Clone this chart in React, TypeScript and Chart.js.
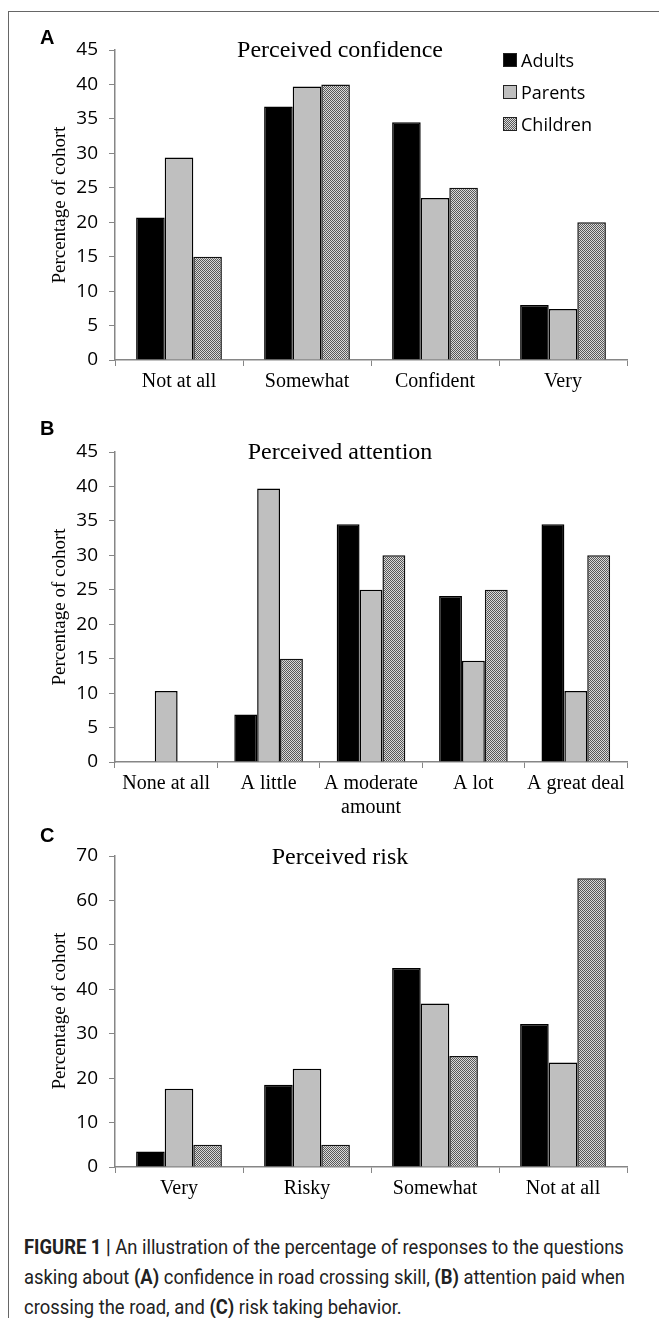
import { useEffect, useRef } from 'react'
import { Chart, registerables } from 'chart.js'

Chart.register(...registerables)

const seriesNames = ['Adults', 'Parents', 'Children']

// Panel A – perceived confidence
const confidenceLabels = ['Not at all', 'Somewhat', 'Confident', 'Very']
const confidenceAdults = [20.7, 36.8, 34.5, 8.0]
const confidenceParents = [29.4, 39.7, 23.5, 7.4]
const confidenceChildren = [15, 40, 25, 20]

// Panel B – perceived attention
const attentionLabels: (string | string[])[] = ['None at all', 'A little', ['A moderate', 'amount'], 'A lot', 'A great deal']
const attentionAdults = [0, 6.9, 34.5, 24.1, 34.5]
const attentionParents = [10.3, 39.7, 25.0, 14.7, 10.3]
const attentionChildren = [0, 15, 30, 25, 30]

// Panel C – perceived risk
const riskLabels = ['Very', 'Risky', 'Somewhat', 'Not at all']
const riskAdults = [3.5, 18.5, 44.8, 32.2]
const riskParents = [17.6, 22.1, 36.8, 23.5]
const riskChildren = [5, 5, 25, 65]

const captionLines = [
  [['b', 'FIGURE 1 |'], ['', ' An illustration of the percentage of responses to the questions']],
  [['', 'asking about '], ['b', '(A)'], ['', ' confidence in road crossing skill, '], ['b', '(B)'], ['', ' attention paid when']],
  [['', 'crossing the road, and '], ['b', '(C)'], ['', ' risk taking behavior.']],
]

const AXIS = '#868686'
const SERIF = "'Liberation Serif', 'Times New Roman', serif"
const SANS = "'Open Sans', sans-serif"

function checker() {
  const c = document.createElement('canvas')
  c.width = 2
  c.height = 2
  const g = c.getContext('2d')!
  g.fillStyle = '#dadada'
  g.fillRect(0, 0, 2, 2)
  g.fillStyle = '#585858'
  g.fillRect(0, 0, 1, 1)
  g.fillRect(1, 1, 1, 1)
  return g.createPattern(c, 'repeat')!
}

function Panel({
  labels,
  adults,
  parents,
  children,
  max,
  step,
  top,
  padTop,
  plotH,
  axisH,
}: {
  labels: (string | string[])[]
  adults: number[]
  parents: number[]
  children: number[]
  max: number
  step: number
  top: number
  padTop: number
  plotH: number
  axisH: number
}) {
  const canvasRef = useRef<HTMLCanvasElement>(null)
  const height = padTop + plotH + axisH

  useEffect(() => {
    if (!canvasRef.current) return
    const chart = new Chart(canvasRef.current, {
      type: 'bar',
      data: {
        labels,
        datasets: [
          { label: seriesNames[0], data: adults, backgroundColor: '#000', borderColor: '#000', borderWidth: 1.5 },
          { label: seriesNames[1], data: parents, backgroundColor: '#bfbfbf', borderColor: '#000', borderWidth: 1.5 },
          { label: seriesNames[2], data: children, backgroundColor: checker(), borderColor: '#111', borderWidth: 1.5 },
        ],
      },
      options: {
        animation: false,
        responsive: false,
        maintainAspectRatio: false,
        layout: { padding: { left: 0, right: 32, top: padTop, bottom: 0 } },
        plugins: { legend: { display: false }, tooltip: { enabled: false } },
        datasets: { bar: { categoryPercentage: 0.67, barPercentage: 1 } },
        scales: {
          x: {
            grid: { offset: true, drawOnChartArea: false, color: AXIS, tickLength: 6 },
            border: { color: AXIS, width: 1.5 },
            ticks: { color: '#000', font: { family: SERIF, size: 20 }, padding: 4, maxRotation: 0, autoSkip: false },
            afterFit: (s) => {
              s.height = axisH
            },
          },
          y: {
            min: 0,
            max,
            grid: { drawOnChartArea: false, color: AXIS, tickLength: 6 },
            border: { color: AXIS, width: 1.5 },
            ticks: { stepSize: step, color: '#000', font: { family: SANS, size: 19 }, padding: 11 },
            afterFit: (s) => {
              s.width = 115
            },
          },
        },
      },
    })
    return () => chart.destroy()
  }, [])

  return (
    <canvas
      ref={canvasRef}
      width={659}
      height={height}
      style={{ position: 'absolute', left: 0, top, width: 659, height }}
    />
  )
}

function Text({
  x,
  y,
  children,
  style,
}: {
  x: number
  y: number
  children: React.ReactNode
  style?: React.CSSProperties
}) {
  // x = centre, y = centre
  return (
    <div
      style={{
        position: 'absolute',
        left: x - 200,
        top: y - 15,
        width: 400,
        height: 30,
        lineHeight: '30px',
        textAlign: 'center',
        whiteSpace: 'nowrap',
        ...style,
      }}
    >
      {children}
    </div>
  )
}

function YTitle({ cy }: { cy: number }) {
  return (
    <Text x={59} y={cy} style={{ fontFamily: SERIF, fontSize: 19, transform: 'rotate(-90deg)' }}>
      Percentage of cohort
    </Text>
  )
}

function Letter({ y, children }: { y: number; children: string }) {
  return (
    <div
      style={{
        position: 'absolute',
        left: 40,
        top: y - 12,
        lineHeight: '24px',
        fontFamily: "'Liberation Sans', Arial, sans-serif",
        fontWeight: 'bold',
        fontSize: 20,
      }}
    >
      {children}
    </div>
  )
}

const swatches = [
  { name: seriesNames[0], bg: '#000' },
  { name: seriesNames[1], bg: '#bfbfbf' },
  { name: seriesNames[2], bg: 'repeating-conic-gradient(#585858 0 25%, #dadada 0 50%) 0 0 / 2px 2px' },
]

export default function App() {
  return (
    <div style={{ position: 'absolute', left: 0, top: 0, width: 659, height: 1318, background: '#fff', overflow: 'hidden' }}>
      <div
        style={{
          position: 'absolute',
          left: 8,
          top: 11,
          width: 700,
          height: 1400,
          borderTop: '1.5px solid #666',
          borderLeft: '1.5px solid #666',
        }}
      />

      <Panel labels={confidenceLabels} adults={confidenceAdults} parents={confidenceParents} children={confidenceChildren}
        max={45} step={5} top={20} padTop={30} plotH={310} axisH={60} />
      <Panel labels={attentionLabels} adults={attentionAdults} parents={attentionParents} children={attentionChildren}
        max={45} step={5} top={420} padTop={32} plotH={310} axisH={70} />
      <Panel labels={riskLabels} adults={riskAdults} parents={riskParents} children={riskChildren}
        max={70} step={10} top={832} padTop={24} plotH={311} axisH={50} />

      <Letter y={37}>A</Letter>
      <Letter y={428}>B</Letter>
      <Letter y={835}>C</Letter>

      <Text x={340} y={49} style={{ fontFamily: SERIF, fontSize: 24 }}>Perceived confidence</Text>
      <Text x={340} y={451} style={{ fontFamily: SERIF, fontSize: 24 }}>Perceived attention</Text>
      <Text x={340} y={856} style={{ fontFamily: SERIF, fontSize: 24 }}>Perceived risk</Text>

      <YTitle cy={205} />
      <YTitle cy={607} />
      <YTitle cy={1011} />

      {swatches.map((s, i) => (
        <div
          key={s.name}
          style={{
            position: 'absolute',
            left: 503,
            top: 60 + i * 32 - 12,
            height: 24,
            display: 'flex',
            alignItems: 'center',
            fontFamily: SANS,
            fontSize: 18,
          }}
        >
          <span
            style={{
              width: 12,
              height: 12,
              border: '1px solid #222',
              background: s.bg,
              marginRight: 4,
              display: 'inline-block',
            }}
          />
          {s.name}
        </div>
      ))}

      <div
        style={{
          position: 'absolute',
          left: 24,
          top: 1232,
          fontFamily: "'Roboto', sans-serif",
          fontSize: 20,
          lineHeight: '30px',
          color: '#222',
        }}
      >
        {captionLines.map((line, i) => (
          <div key={i} style={{ whiteSpace: 'nowrap', transform: 'scaleX(0.92)', transformOrigin: 'left center' }}>
            {line.map(([w, t], j) => (w === 'b' ? <b key={j}>{t}</b> : <span key={j}>{t}</span>))}
          </div>
        ))}
      </div>
    </div>
  )
}
